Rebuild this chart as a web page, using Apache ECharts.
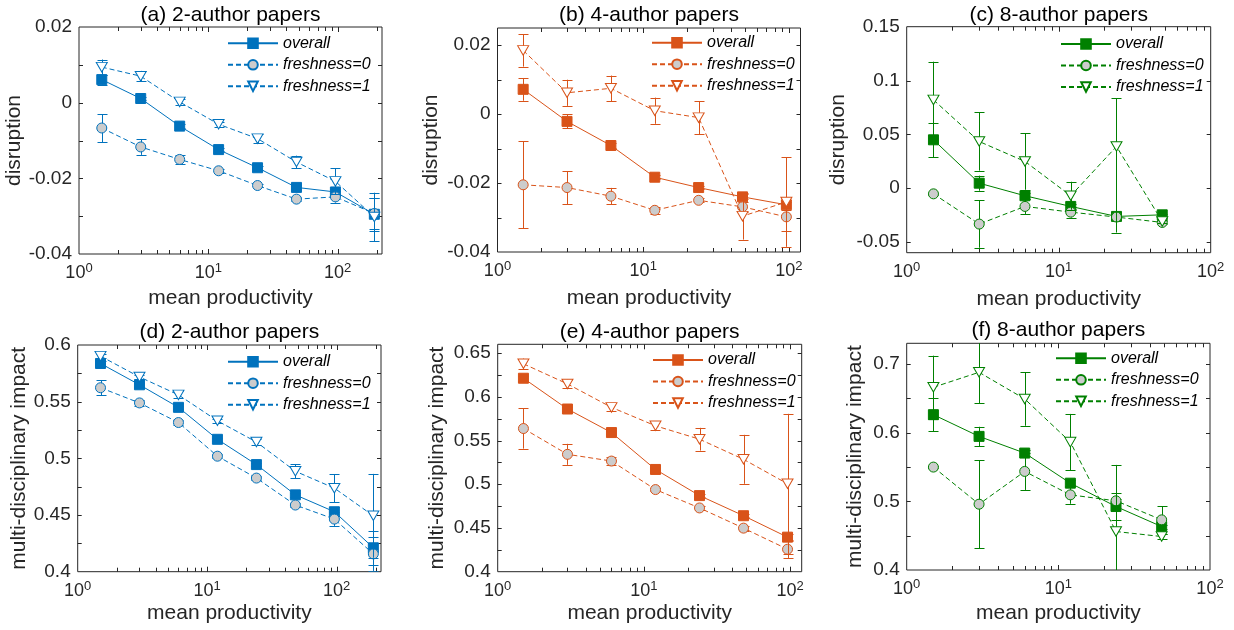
<!DOCTYPE html>
<html><head><meta charset="utf-8">
<script src="https://cdn.jsdelivr.net/npm/echarts@6/dist/echarts.min.js"></script>
<style>html,body{margin:0;padding:0;background:#fff}#c{width:1234px;height:630px}</style>
</head><body><div id="c"></div>
<script>
// ---------- data ----------
const xA = [1.5, 3, 6, 12, 24, 48, 96, 192];
const xB = [1.5, 3, 6, 12, 24, 48, 96];
const xC = [1.5, 3, 6, 12, 24, 48];
const seriesNames = ['overall', 'freshness=0', 'freshness=1'];

// (a) 2-author, disruption
const overallA = [0.0061, 0.0011, -0.0062, -0.0124, -0.0172, -0.0224, -0.0236, -0.0295];
const overallAErr = [0.0013, 0.0005, 0.0005, 0.0005, 0.0005, 0.0006, 0.0008, 0.0044];
const fresh0A = [-0.0067, -0.0117, -0.0150, -0.0180, -0.0219, -0.0255, -0.0249, -0.0293];
const fresh0AErr = [0.0037, 0.0021, 0.0012, 0.0005, 0.0005, 0.0005, 0.0015, 0.0040];
const fresh1A = [0.0094, 0.0070, 0.0002, -0.0057, -0.0095, -0.0157, -0.0208, -0.0302];
const fresh1AErr = [0.0020, 0.0014, 0.0007, 0.0007, 0.0012, 0.0017, 0.0034, 0.0064];

// (b) 4-author, disruption
const overallB = [0.0072, -0.0021, -0.0091, -0.0183, -0.0213, -0.0240, -0.0263];
const overallBErr = [0.0033, 0.0020, 0.0006, 0.0005, 0.0005, 0.0007, 0.0015];
const fresh0B = [-0.0205, -0.0213, -0.0238, -0.0279, -0.0250, -0.0269, -0.0298];
const fresh0BErr = [0.0126, 0.0048, 0.0024, 0.0010, 0.0006, 0.0015, 0.0042];
const fresh1B = [0.0185, 0.0062, 0.0075, 0.0010, -0.0010, -0.0296, -0.0255];
const fresh1BErr = [0.0047, 0.0038, 0.0037, 0.0038, 0.0048, 0.0068, 0.0130];

// (c) 8-author, disruption
const overallC = [0.0449, 0.0046, -0.0071, -0.0170, -0.0263, -0.0248];
const overallCErr = [0.016, 0.007, 0.003, 0.002, 0.002, 0.001];
const fresh0C = [-0.0053, -0.0334, -0.0170, -0.0223, -0.0269, -0.0319];
const fresh0CErr = [0.001, 0.022, 0.007, 0.005, 0.002, 0.001];
const fresh1C = [0.082, 0.0433, 0.0248, -0.0071, 0.0387, -0.031];
const fresh1CErrUp = [0.0355, 0.027, 0.0263, 0.013, 0.045, 0.001];
const fresh1CErrDown = [0.0355, 0.027, 0.0263, 0.013, 0.080, 0.001];

// (d) 2-author, multi-disciplinary impact
const overallD = [0.5837, 0.5649, 0.5450, 0.5168, 0.4945, 0.4678, 0.4529, 0.4211];
const overallDErr = [0.002, 0.002, 0.0015, 0.0015, 0.0015, 0.002, 0.004, 0.015];
const fresh0D = [0.5623, 0.5489, 0.5316, 0.5019, 0.4826, 0.4588, 0.4464, 0.4157];
const fresh0DErr = [0.0067, 0.003, 0.002, 0.002, 0.002, 0.002, 0.006, 0.015];
const fresh1D = [0.5902, 0.5718, 0.5560, 0.5331, 0.5144, 0.4886, 0.4737, 0.4493];
const fresh1DErr = [0.002, 0.002, 0.003, 0.002, 0.003, 0.006, 0.0125, 0.037];

// (e) 4-author, multi-disciplinary impact
const overallE = [0.6212, 0.5860, 0.5591, 0.5169, 0.4870, 0.4640, 0.4395];
const overallEErr = [0.003, 0.002, 0.002, 0.002, 0.002, 0.002, 0.004];
const fresh0E = [0.5637, 0.5342, 0.5265, 0.4939, 0.4729, 0.4498, 0.4257];
const fresh0EErr = [0.023, 0.012, 0.005, 0.002, 0.002, 0.003, 0.010];
const fresh1E = [0.6377, 0.6147, 0.5879, 0.5668, 0.5515, 0.5285, 0.5005];
const fresh1EErr = [0.006, 0.005, 0.0045, 0.005, 0.013, 0.028, 0.080];

// (f) 8-author, multi-disciplinary impact
const overallF = [0.6261, 0.5945, 0.5702, 0.5264, 0.4924, 0.4632];
const overallFErr = [0.024, 0.014, 0.004, 0.004, 0.020, 0.003];
const fresh0F = [0.5498, 0.4958, 0.5435, 0.5094, 0.5007, 0.4730];
const fresh0FErr = [0.002, 0.064, 0.027, 0.013, 0.003, 0.020];
const fresh1F = [0.6660, 0.6878, 0.6490, 0.5862, 0.4560, 0.4487];
const fresh1FErr = [0.046, 0.045, 0.039, 0.041, 0.097, 0.003];

// axis ticks
const xMajorTicks = [1, 10, 100];
const xMinorTicks = [2, 3, 4, 5, 6, 7, 8, 9, 20, 30, 40, 50, 60, 70, 80, 90, 200];
const yLabelsA = [-0.04, -0.02, 0, 0.02];
const yTicksA = [-0.04, -0.03, -0.02, -0.01, 0, 0.01, 0.02];
const yLabelsB = [-0.04, -0.02, 0, 0.02];
const yTicksB = [-0.04, -0.03, -0.02, -0.01, 0, 0.01, 0.02];
const yLabelsC = [-0.05, 0, 0.05, 0.1, 0.15];
const yTicksC = [-0.05, 0, 0.05, 0.1, 0.15];
const yLabelsD = [0.4, 0.45, 0.5, 0.55, 0.6];
const yTicksD = [0.4, 0.425, 0.45, 0.475, 0.5, 0.525, 0.55, 0.575, 0.6];
const yLabelsE = [0.4, 0.45, 0.5, 0.55, 0.6, 0.65];
const yTicksE = [0.4, 0.425, 0.45, 0.475, 0.5, 0.525, 0.55, 0.575, 0.6, 0.625, 0.65];
const yLabelsF = [0.4, 0.5, 0.6, 0.7];
const yTicksF = [0.4, 0.45, 0.5, 0.55, 0.6, 0.65, 0.7];

// ---------- layout / style ----------
const FONT = '"Liberation Sans", Arial, Helvetica, sans-serif';
const AX = '#262626';
const BLUE = '#0072BD', ORANGE = '#D95319', GREEN = '#008000';

const panels = [
  {id:'a', title:'(a) 2-author papers', color:BLUE, x:xA,
   s:[[overallA,overallAErr,overallAErr],[fresh0A,fresh0AErr,fresh0AErr],[fresh1A,fresh1AErr,fresh1AErr]],
   grid:{left:79, top:27, width:303, height:227}, xMax:220, yMin:-0.04, yMax:0.02, yStep:0.01,
   yLabels:yLabelsA, yTicks:yTicksA, yName:'disruption', yGap:47, xGap:34, leg:{left:227, top:35.3}, titleY:15},
  {id:'b', title:'(b) 4-author papers', color:ORANGE, x:xB,
   s:[[overallB,overallBErr,overallBErr],[fresh0B,fresh0BErr,fresh0BErr],[fresh1B,fresh1BErr,fresh1BErr]],
   grid:{left:497.5, top:28, width:303, height:224}, xMax:120, yMin:-0.04, yMax:0.025, yStep:0.01,
   yLabels:yLabelsB, yTicks:yTicksB, yName:'disruption', yGap:56, xGap:36, leg:{left:651, top:34.7}, titleY:15},
  {id:'c', title:'(c) 8-author papers', color:GREEN, x:xC,
   s:[[overallC,overallCErr,overallCErr],[fresh0C,fresh0CErr,fresh0CErr],[fresh1C,fresh1CErrUp,fresh1CErrDown]],
   grid:{left:906.7, top:26.7, width:304, height:226}, xMax:100, yMin:-0.06, yMax:0.15, yStep:0.01,
   yLabels:yLabelsC, yTicks:yTicksC, yName:'disruption', yGap:58, xGap:36, leg:{left:1060, top:36}, titleY:15},
  {id:'d', title:'(d) 2-author papers', color:BLUE, x:xA,
   s:[[overallD,overallDErr,overallDErr],[fresh0D,fresh0DErr,fresh0DErr],[fresh1D,fresh1DErr,fresh1DErr]],
   grid:{left:77.7, top:345, width:303.3, height:226.7}, xMax:220, yMin:0.4, yMax:0.6, yStep:0.025,
   yLabels:yLabelsD, yTicks:yTicksD, yName:'multi-disciplinary impact', yGap:46, xGap:31, leg:{left:227, top:353.7}, titleY:332},
  {id:'e', title:'(e) 4-author papers', color:ORANGE, x:xB,
   s:[[overallE,overallEErr,overallEErr],[fresh0E,fresh0EErr,fresh0EErr],[fresh1E,fresh1EErr,fresh1EErr]],
   grid:{left:497.7, top:344.3, width:304, height:227.4}, xMax:120, yMin:0.4, yMax:0.66, yStep:0.025,
   yLabels:yLabelsE, yTicks:yTicksE, yName:'multi-disciplinary impact', yGap:50, xGap:31, leg:{left:652, top:352}, titleY:332},
  {id:'f', title:'(f) 8-author papers', color:GREEN, x:xC,
   s:[[overallF,overallFErr,overallFErr],[fresh0F,fresh0FErr,fresh0FErr],[fresh1F,fresh1FErr,fresh1FErr]],
   grid:{left:906.7, top:343.3, width:303.3, height:226.7}, xMax:100, yMin:0.4, yMax:0.73, yStep:0.05,
   yLabels:yLabelsF, yTicks:yTicksF, yName:'multi-disciplinary impact', yGap:41, xGap:33, leg:{left:1055, top:350.3}, titleY:330}
];

const TRI = 'path://M0,0L11,0L5.5,9.5Z';
const markerStyles = [
  {symbol:'rect', size:10, fill:null, dash:'solid'},
  {symbol:'circle', size:10, fill:'#CCCCCC', dash:[5,3]},
  {symbol:TRI, size:[11,9.5], fill:'#FFFFFF', dash:[5,3]}
];

function isPow10(v){ const l = Math.log10(v); return Math.abs(l - Math.round(l)) < 1e-6; }
function fmt(v){ return String(Number(v.toFixed(4))); }
function crisp(v){ return Math.round(v) + 0.5; }

const grids = [], xAxes = [], yAxes = [], series = [], legends = [], graphics = [];

panels.forEach((p, gi) => {
  grids.push(Object.assign({show:true, borderColor:AX, borderWidth:1, backgroundColor:'#fff', containLabel:false, outerBoundsMode:'none'}, p.grid));
  xAxes.push({
    type:'log', logBase:10, gridIndex:gi, min:1, max:p.xMax,
    axisLine:{show:false}, axisTick:{show:false}, splitLine:{show:false}, minorTick:{show:false},
    axisLabel:{
      margin:8,
      formatter: v => isPow10(v) ? '{b|10}{s|' + Math.round(Math.log10(v)) + '}' : '',
      rich:{
        b:{fontSize:18, fontFamily:FONT, color:AX, lineHeight:20, verticalAlign:'bottom'},
        s:{fontSize:13, fontFamily:FONT, color:AX, lineHeight:13, verticalAlign:'top'}
      }
    },
    name:'mean productivity', nameLocation:'middle', nameGap:p.xGap,
    nameTextStyle:{fontSize:21, fontFamily:FONT, color:AX}
  });
  yAxes.push({
    type:'value', gridIndex:gi, min:p.yMin, max:p.yMax, interval:p.yStep,
    axisLine:{show:false}, axisTick:{show:false}, splitLine:{show:false},
    axisLabel:{
      margin:7, fontSize:19, fontFamily:FONT, color:AX,
      formatter: v => p.yLabels.some(l => Math.abs(l - v) < 1e-9) ? fmt(v) : ''
    },
    name:p.yName, nameLocation:'middle', nameGap:p.yGap,
    nameTextStyle:{fontSize:21, fontFamily:FONT, color:AX}
  });

  // ticks (inside, on all four sides of the box)
  series.push({
    type:'custom', xAxisIndex:gi, yAxisIndex:gi, silent:true, z:1, clip:false,
    data:[[1, p.yMin]],
    renderItem(params, api){
      const cs = params.coordSys, L = 4, ch = [];
      const st = {stroke:AX, lineWidth:1};
      const add = (x1,y1,x2,y2) => ch.push({type:'line', shape:{x1,y1,x2,y2}, style:st});
      const bot = cs.y + cs.height, top = cs.y, lf = cs.x, rt = cs.x + cs.width;
      xMajorTicks.concat(xMinorTicks).forEach(v => {
        const px = api.coord([v, p.yMin])[0];
        if (px < lf + 1 || px > rt - 1) return;
        const len = xMajorTicks.includes(v) ? L + 1 : L;
        add(crisp(px), bot, crisp(px), bot - len);
        add(crisp(px), top, crisp(px), top + len);
      });
      p.yTicks.forEach(v => {
        const py = crisp(api.coord([1, v])[1]);
        if (py < top + 1 || py > bot - 1) return;
        add(lf, py, lf + L, py);
        add(rt, py, rt - L, py);
      });
      return {type:'group', children:ch};
    }
  });

  const legData = [];
  p.s.forEach((trip, si) => {
    const [vals, errUp, errDown] = trip;
    const ms = markerStyles[si];
    const name = p.id + '|' + seriesNames[si];
    legData.push(name);
    // error bars
    series.push({
      type:'custom', xAxisIndex:gi, yAxisIndex:gi, silent:true, clip:true, z:2 + si * 2,
      data: p.x.map((x, i) => [x, vals[i] - errDown[i], vals[i] + errUp[i]]),
      encode:{x:0, y:[1, 2]},
      renderItem(params, api){
        const x = api.value(0);
        const lo = api.coord([x, api.value(1)]);
        const hi = api.coord([x, api.value(2)]);
        const cx = crisp(lo[0]), hw = 5;
        const st = {stroke:p.color, lineWidth:1};
        return {type:'group', children:[
          {type:'line', shape:{x1:cx, y1:lo[1], x2:cx, y2:hi[1]}, style:st},
          {type:'line', shape:{x1:cx - hw, y1:crisp(lo[1]), x2:cx + hw, y2:crisp(lo[1])}, style:st},
          {type:'line', shape:{x1:cx - hw, y1:crisp(hi[1]), x2:cx + hw, y2:crisp(hi[1])}, style:st}
        ]};
      }
    });
    series.push({
      type:'line', name, xAxisIndex:gi, yAxisIndex:gi, z:3 + si * 2, clip:true,
      data: p.x.map((x, i) => [x, vals[i]]),
      symbol:ms.symbol, symbolSize:ms.size, showSymbol:true, showAllSymbol:true,
      itemStyle:{color: ms.fill || p.color, borderColor:p.color, borderWidth:1},
      lineStyle:{color:p.color, width:1, type:ms.dash},
      emphasis:{disabled:true}, animation:false
    });
  });

  legends.push({
    show:true, orient:'vertical', left:p.leg.left, top:p.leg.top, padding:0,
    itemWidth:50, itemHeight:12, itemGap:5.5, selectedMode:false,
    data:legData, formatter: n => n.split('|')[1],
    textStyle:{fontFamily:FONT, fontSize:16, fontStyle:'italic', color:'#000'}
  });

  graphics.push({
    type:'text', x: p.grid.left + p.grid.width / 2, y: p.titleY, silent:true,
    style:{text:p.title, fontSize:21, fontFamily:FONT, fill:'#000', align:'center', verticalAlign:'middle'}
  });
});

const chart = echarts.init(document.getElementById('c'), null, {renderer:'canvas'});
chart.setOption({
  animation:false,
  backgroundColor:'#fff',
  grid:grids, xAxis:xAxes, yAxis:yAxes, series, legend:legends,
  graphic:graphics, tooltip:{show:false}
});
</script></body></html>
